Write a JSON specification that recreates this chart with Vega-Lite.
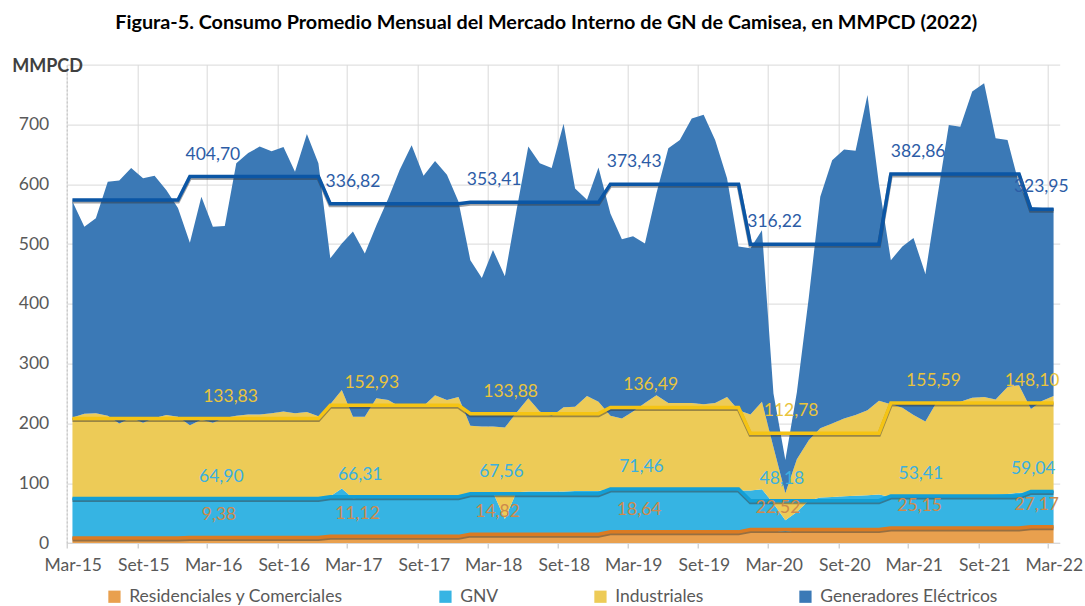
{
  "$schema": "https://vega.github.io/schema/vega-lite/v6.json",
  "autosize": {"type": "none"},
  "width": 993,
  "height": 478.4,
  "padding": {"left": 66.7, "top": 64.6, "right": 25.3, "bottom": 63},
  "background": "white",
  "title": {
    "text": "Figura-5. Consumo Promedio Mensual del Mercado Interno de GN de Camisea, en MMPCD (2022)",
    "font": "Lato", "fontSize": 19.8, "fontWeight": "bold", "color": "#000000",
    "anchor": "middle", "frame": "group", "dx": -17, "offset": 25
  },
  "config": {
    "font": "Lato",
    "view": {"stroke": null},
    "locale": {"number": {"decimal": ",", "thousands": ".", "grouping": [3], "currency": ["", ""]}}
  },
  "datasets": {
    "series": [
      {"clave": "res", "orden": 1, "nombre": "Residenciales y Comerciales"},
      {"clave": "gnv", "orden": 2, "nombre": "GNV"},
      {"clave": "ind", "orden": 3, "nombre": "Industriales"},
      {"clave": "gen", "orden": 4, "nombre": "Generadores Eléctricos"}
    ],
    "lineas": [
      {"clave": "pres", "orden": 1},
      {"clave": "pgnv", "orden": 2},
      {"clave": "pind", "orden": 3},
      {"clave": "pgen", "orden": 4}
    ],
    "promedios": [
      {"anio": 2015, "pres": 8.5, "pgnv": 65.8, "pind": 133.8, "pgen": 365.5},
      {"anio": 2016, "pres": 9.38, "pgnv": 64.90, "pind": 133.83, "pgen": 404.70},
      {"anio": 2017, "pres": 11.12, "pgnv": 66.31, "pind": 152.93, "pgen": 336.82},
      {"anio": 2018, "pres": 14.82, "pgnv": 67.56, "pind": 133.88, "pgen": 353.41},
      {"anio": 2019, "pres": 18.64, "pgnv": 71.46, "pind": 136.49, "pgen": 373.43},
      {"anio": 2020, "pres": 22.52, "pgnv": 48.18, "pind": 112.78, "pgen": 316.22},
      {"anio": 2021, "pres": 25.15, "pgnv": 53.41, "pind": 155.59, "pgen": 382.86},
      {"anio": 2022, "pres": 27.17, "pgnv": 59.04, "pind": 148.10, "pgen": 323.95}
    ],
    "etiquetas": [
      {"anio": 2016, "clave": "pres", "valor": 9.38, "fecha": "2016/04/01"},
      {"anio": 2016, "clave": "pgnv", "valor": 64.90, "fecha": "2016/04/07"},
      {"anio": 2016, "clave": "pind", "valor": 133.83, "fecha": "2016/05/01"},
      {"anio": 2016, "clave": "pgen", "valor": 404.70, "fecha": "2016/03/16"},
      {"anio": 2017, "clave": "pres", "valor": 11.12, "fecha": "2017/03/28"},
      {"anio": 2017, "clave": "pgnv", "valor": 66.31, "fecha": "2017/04/04"},
      {"anio": 2017, "clave": "pind", "valor": 152.93, "fecha": "2017/05/04"},
      {"anio": 2017, "clave": "pgen", "valor": 336.82, "fecha": "2017/03/16"},
      {"anio": 2018, "clave": "pres", "valor": 14.82, "fecha": "2018/03/28"},
      {"anio": 2018, "clave": "pgnv", "valor": 67.56, "fecha": "2018/04/07"},
      {"anio": 2018, "clave": "pind", "valor": 133.88, "fecha": "2018/05/01"},
      {"anio": 2018, "clave": "pgen", "valor": 353.41, "fecha": "2018/03/19"},
      {"anio": 2019, "clave": "pres", "valor": 18.64, "fecha": "2019/04/01"},
      {"anio": 2019, "clave": "pgnv", "valor": 71.46, "fecha": "2019/04/07"},
      {"anio": 2019, "clave": "pind", "valor": 136.49, "fecha": "2019/05/01"},
      {"anio": 2019, "clave": "pgen", "valor": 373.43, "fecha": "2019/03/19"},
      {"anio": 2020, "clave": "pres", "valor": 22.52, "fecha": "2020/03/28"},
      {"anio": 2020, "clave": "pgnv", "valor": 48.18, "fecha": "2020/04/07"},
      {"anio": 2020, "clave": "pind", "valor": 112.78, "fecha": "2020/05/01"},
      {"anio": 2020, "clave": "pgen", "valor": 316.22, "fecha": "2020/03/19"},
      {"anio": 2021, "clave": "pres", "valor": 25.15, "fecha": "2021/04/01"},
      {"anio": 2021, "clave": "pgnv", "valor": 53.41, "fecha": "2021/04/04"},
      {"anio": 2021, "clave": "pind", "valor": 155.59, "fecha": "2021/05/07"},
      {"anio": 2021, "clave": "pgen", "valor": 382.86, "fecha": "2021/03/28"},
      {"anio": 2022, "clave": "pres", "valor": 27.17, "fecha": "2022/01/31"},
      {"anio": 2022, "clave": "pgnv", "valor": 59.04, "fecha": "2022/01/22"},
      {"anio": 2022, "clave": "pind", "valor": 148.10, "fecha": "2022/01/19"},
      {"anio": 2022, "clave": "pgen", "valor": 323.95, "fecha": "2022/02/12"}
    ],
    "mensual": [
      {"mes": "2015/03/16", "anio": 2015, "res": 8.3, "gnv": 66.7, "ind": 135, "gen": 361},
      {"mes": "2015/04/16", "anio": 2015, "res": 8.4, "gnv": 66.6, "ind": 141, "gen": 313},
      {"mes": "2015/05/16", "anio": 2015, "res": 8.5, "gnv": 65.5, "ind": 143, "gen": 326},
      {"mes": "2015/06/16", "anio": 2015, "res": 8.4, "gnv": 65.6, "ind": 139, "gen": 391},
      {"mes": "2015/07/16", "anio": 2015, "res": 8.5, "gnv": 66.5, "ind": 125, "gen": 406},
      {"mes": "2015/08/16", "anio": 2015, "res": 8.6, "gnv": 65.4, "ind": 135, "gen": 418},
      {"mes": "2015/09/16", "anio": 2015, "res": 8.6, "gnv": 65.4, "ind": 127, "gen": 409},
      {"mes": "2015/10/16", "anio": 2015, "res": 8.7, "gnv": 66.3, "ind": 134, "gen": 405},
      {"mes": "2015/11/16", "anio": 2015, "res": 8.6, "gnv": 66.4, "ind": 139, "gen": 376},
      {"mes": "2015/12/16", "anio": 2015, "res": 8.5, "gnv": 65.5, "ind": 137, "gen": 349},
      {"mes": "2016/01/16", "anio": 2016, "res": 9.0, "gnv": 64.0, "ind": 124, "gen": 305},
      {"mes": "2016/02/15", "anio": 2016, "res": 9.2, "gnv": 63.8, "ind": 133, "gen": 373},
      {"mes": "2016/03/16", "anio": 2016, "res": 9.4, "gnv": 63.6, "ind": 128, "gen": 328},
      {"mes": "2016/04/16", "anio": 2016, "res": 9.3, "gnv": 63.7, "ind": 136, "gen": 321},
      {"mes": "2016/05/16", "anio": 2016, "res": 9.4, "gnv": 64.6, "ind": 139, "gen": 422},
      {"mes": "2016/06/16", "anio": 2016, "res": 9.5, "gnv": 64.5, "ind": 141, "gen": 437},
      {"mes": "2016/07/16", "anio": 2016, "res": 9.3, "gnv": 65.7, "ind": 140, "gen": 448},
      {"mes": "2016/08/16", "anio": 2016, "res": 9.5, "gnv": 65.5, "ind": 142, "gen": 438},
      {"mes": "2016/09/16", "anio": 2016, "res": 9.4, "gnv": 66.6, "ind": 144, "gen": 442},
      {"mes": "2016/10/16", "anio": 2016, "res": 9.5, "gnv": 66.5, "ind": 141, "gen": 404},
      {"mes": "2016/11/16", "anio": 2016, "res": 9.6, "gnv": 66.4, "ind": 143, "gen": 465},
      {"mes": "2016/12/16", "anio": 2016, "res": 9.4, "gnv": 65.6, "ind": 137, "gen": 423},
      {"mes": "2017/01/16", "anio": 2017, "res": 10.6, "gnv": 67.4, "ind": 154, "gen": 244},
      {"mes": "2017/02/15", "anio": 2017, "res": 10.9, "gnv": 80.1, "ind": 165, "gen": 245},
      {"mes": "2017/03/16", "anio": 2017, "res": 11.0, "gnv": 64.0, "ind": 136, "gen": 310},
      {"mes": "2017/04/16", "anio": 2017, "res": 11.1, "gnv": 64.9, "ind": 135, "gen": 273},
      {"mes": "2017/05/16", "anio": 2017, "res": 11.2, "gnv": 65.8, "ind": 165, "gen": 289},
      {"mes": "2017/06/16", "anio": 2017, "res": 11.2, "gnv": 64.8, "ind": 163, "gen": 337},
      {"mes": "2017/07/16", "anio": 2017, "res": 11.3, "gnv": 64.7, "ind": 152, "gen": 396},
      {"mes": "2017/08/16", "anio": 2017, "res": 11.2, "gnv": 65.8, "ind": 151, "gen": 437},
      {"mes": "2017/09/16", "anio": 2017, "res": 11.3, "gnv": 65.7, "ind": 152, "gen": 385},
      {"mes": "2017/10/16", "anio": 2017, "res": 11.2, "gnv": 64.8, "ind": 171, "gen": 392},
      {"mes": "2017/11/16", "anio": 2017, "res": 11.2, "gnv": 64.8, "ind": 163, "gen": 377},
      {"mes": "2017/12/16", "anio": 2017, "res": 11.2, "gnv": 64.8, "ind": 168, "gen": 327},
      {"mes": "2018/01/16", "anio": 2018, "res": 14.2, "gnv": 67.8, "ind": 114, "gen": 277},
      {"mes": "2018/02/15", "anio": 2018, "res": 14.5, "gnv": 69.5, "ind": 111, "gen": 248},
      {"mes": "2018/03/16", "anio": 2018, "res": 14.6, "gnv": 70.4, "ind": 110, "gen": 295},
      {"mes": "2018/04/16", "anio": 2018, "res": 14.8, "gnv": 25.2, "ind": 153, "gen": 253},
      {"mes": "2018/05/16", "anio": 2018, "res": 14.9, "gnv": 70.1, "ind": 133, "gen": 337},
      {"mes": "2018/06/16", "anio": 2018, "res": 15.0, "gnv": 71.0, "ind": 156, "gen": 421},
      {"mes": "2018/07/16", "anio": 2018, "res": 14.9, "gnv": 71.1, "ind": 134, "gen": 415},
      {"mes": "2018/08/16", "anio": 2018, "res": 15.0, "gnv": 71.0, "ind": 126, "gen": 415},
      {"mes": "2018/09/16", "anio": 2018, "res": 15.0, "gnv": 71.0, "ind": 141, "gen": 474},
      {"mes": "2018/10/16", "anio": 2018, "res": 14.9, "gnv": 72.1, "ind": 141, "gen": 365},
      {"mes": "2018/11/16", "anio": 2018, "res": 15.0, "gnv": 72.0, "ind": 159, "gen": 328},
      {"mes": "2018/12/16", "anio": 2018, "res": 15.0, "gnv": 72.0, "ind": 149, "gen": 392},
      {"mes": "2019/01/16", "anio": 2019, "res": 17.8, "gnv": 73.2, "ind": 122, "gen": 338},
      {"mes": "2019/02/15", "anio": 2019, "res": 18.2, "gnv": 72.8, "ind": 117, "gen": 300},
      {"mes": "2019/03/16", "anio": 2019, "res": 18.5, "gnv": 72.5, "ind": 129, "gen": 293},
      {"mes": "2019/04/16", "anio": 2019, "res": 18.6, "gnv": 71.4, "ind": 144, "gen": 267},
      {"mes": "2019/05/16", "anio": 2019, "res": 18.7, "gnv": 71.3, "ind": 157, "gen": 338},
      {"mes": "2019/06/16", "anio": 2019, "res": 18.8, "gnv": 71.2, "ind": 144, "gen": 426},
      {"mes": "2019/07/16", "anio": 2019, "res": 18.9, "gnv": 72.1, "ind": 143, "gen": 440},
      {"mes": "2019/08/16", "anio": 2019, "res": 18.8, "gnv": 72.2, "ind": 143, "gen": 476},
      {"mes": "2019/09/16", "anio": 2019, "res": 18.9, "gnv": 72.1, "ind": 141, "gen": 484},
      {"mes": "2019/10/16", "anio": 2019, "res": 18.8, "gnv": 73.2, "ind": 142, "gen": 440},
      {"mes": "2019/11/16", "anio": 2019, "res": 18.8, "gnv": 73.2, "ind": 152, "gen": 366},
      {"mes": "2019/12/16", "anio": 2019, "res": 18.9, "gnv": 69.1, "ind": 134, "gen": 274},
      {"mes": "2020/01/16", "anio": 2020, "res": 21.5, "gnv": 66.5, "ind": 127, "gen": 278},
      {"mes": "2020/02/15", "anio": 2020, "res": 22.0, "gnv": 68.0, "ind": 146, "gen": 287},
      {"mes": "2020/03/16", "anio": 2020, "res": 21.0, "gnv": 45.0, "ind": 94, "gen": 90},
      {"mes": "2020/04/16", "anio": 2020, "res": 18.5, "gnv": 19.5, "ind": 45, "gen": 56},
      {"mes": "2020/05/16", "anio": 2020, "res": 21.5, "gnv": 30.5, "ind": 88, "gen": 112},
      {"mes": "2020/06/16", "anio": 2020, "res": 22.8, "gnv": 48.2, "ind": 101, "gen": 238},
      {"mes": "2020/07/16", "anio": 2020, "res": 23.2, "gnv": 52.8, "ind": 116, "gen": 387},
      {"mes": "2020/08/16", "anio": 2020, "res": 23.4, "gnv": 53.6, "ind": 123, "gen": 440},
      {"mes": "2020/09/16", "anio": 2020, "res": 23.5, "gnv": 54.5, "ind": 130, "gen": 450},
      {"mes": "2020/10/16", "anio": 2020, "res": 23.6, "gnv": 55.4, "ind": 135, "gen": 442},
      {"mes": "2020/11/16", "anio": 2020, "res": 23.5, "gnv": 56.5, "ind": 142, "gen": 527},
      {"mes": "2020/12/16", "anio": 2020, "res": 23.7, "gnv": 57.3, "ind": 157, "gen": 362},
      {"mes": "2021/01/16", "anio": 2021, "res": 24.5, "gnv": 52.5, "ind": 155, "gen": 241},
      {"mes": "2021/02/15", "anio": 2021, "res": 24.8, "gnv": 52.2, "ind": 149, "gen": 270},
      {"mes": "2021/03/16", "anio": 2021, "res": 25.0, "gnv": 52.0, "ind": 137, "gen": 296},
      {"mes": "2021/04/16", "anio": 2021, "res": 25.1, "gnv": 51.9, "ind": 126, "gen": 247},
      {"mes": "2021/05/16", "anio": 2021, "res": 25.2, "gnv": 52.8, "ind": 158, "gen": 338},
      {"mes": "2021/06/16", "anio": 2021, "res": 25.2, "gnv": 52.8, "ind": 157, "gen": 464},
      {"mes": "2021/07/16", "anio": 2021, "res": 25.3, "gnv": 52.7, "ind": 158, "gen": 460},
      {"mes": "2021/08/16", "anio": 2021, "res": 25.2, "gnv": 53.8, "ind": 164, "gen": 512},
      {"mes": "2021/09/16", "anio": 2021, "res": 25.3, "gnv": 54.7, "ind": 164, "gen": 525},
      {"mes": "2021/10/16", "anio": 2021, "res": 25.3, "gnv": 55.7, "ind": 159, "gen": 437},
      {"mes": "2021/11/16", "anio": 2021, "res": 25.3, "gnv": 56.7, "ind": 179, "gen": 413},
      {"mes": "2021/12/16", "anio": 2021, "res": 25.4, "gnv": 58.6, "ind": 180, "gen": 336},
      {"mes": "2022/01/16", "anio": 2022, "res": 26.9, "gnv": 58.1, "ind": 139, "gen": 338},
      {"mes": "2022/02/15", "anio": 2022, "res": 27.2, "gnv": 58.8, "ind": 152, "gen": 322},
      {"mes": "2022/03/16", "anio": 2022, "res": 27.4, "gnv": 59.6, "ind": 159, "gen": 314}
    ]
  },
  "resolve": {"scale": {"color": "independent"}},
  "layer": [
    {
      "data": {"name": "mensual"},
      "transform": [
        {"fold": ["res", "gnv", "ind", "gen"], "as": ["clave", "valor"]},
        {"lookup": "clave", "from": {"data": {"name": "series"}, "key": "clave", "fields": ["orden", "nombre"]}}
      ],
      "mark": {"type": "area", "opacity": 1},
      "encoding": {
        "x": {
          "field": "mes", "type": "temporal",
          "scale": {"domain": [{"year": 2015, "month": "Mar", "date": 1}, {"year": 2022, "month": "Apr", "date": 1}], "nice": false},
          "axis": {
            "values": [
              {"year": 2015, "month": "Mar", "date": 1}, {"year": 2015, "month": "Sep", "date": 1},
              {"year": 2016, "month": "Mar", "date": 1}, {"year": 2016, "month": "Sep", "date": 1},
              {"year": 2017, "month": "Mar", "date": 1}, {"year": 2017, "month": "Sep", "date": 1},
              {"year": 2018, "month": "Mar", "date": 1}, {"year": 2018, "month": "Sep", "date": 1},
              {"year": 2019, "month": "Mar", "date": 1}, {"year": 2019, "month": "Sep", "date": 1},
              {"year": 2020, "month": "Mar", "date": 1}, {"year": 2020, "month": "Sep", "date": 1},
              {"year": 2021, "month": "Mar", "date": 1}, {"year": 2021, "month": "Sep", "date": 1},
              {"year": 2022, "month": "Mar", "date": 1}
            ],
            "labelExpr": "['Ene','Feb','Mar','Abr','May','Jun','Jul','Ago','Set','Oct','Nov','Dic'][month(datum.value)] + '-' + timeFormat(datum.value, '%y')",
            "title": null,
            "grid": true, "gridColor": "#D9D9D9", "gridWidth": 1,
            "tickColor": "#BFBFBF", "tickSize": 5,
            "domainColor": "#D9D9D9",
            "labelFontSize": 17.5, "labelColor": "#595959", "labelOffset": 6, "labelPadding": 8,
            "labelOverlap": false, "labelFlush": false, "labelBound": false
          }
        },
        "y": {
          "field": "valor", "type": "quantitative", "stack": "zero",
          "scale": {"domain": [0, 800], "nice": false},
          "axis": {
            "values": [0, 100, 200, 300, 400, 500, 600, 700, 800],
            "labelExpr": "datum.value == 800 ? '' : datum.label",
            "title": "MMPCD", "titleAngle": 0, "titleAlign": "left", "titleBaseline": "middle",
            "titleX": -55, "titleY": 2, "titleFontSize": 18, "titleFontWeight": "bold", "titleColor": "#404040",
            "grid": true, "gridColor": "#D9D9D9", "gridWidth": 1,
            "ticks": false, "labelPadding": 18, "labelFontSize": 17.5, "labelColor": "#595959",
            "domain": true, "domainColor": "#BFBFBF", "domainDash": [2, 2]
          }
        },
        "color": {
          "field": "nombre", "type": "nominal",
          "scale": {
            "domain": ["Residenciales y Comerciales", "GNV", "Industriales", "Generadores Eléctricos"],
            "range": ["#E9A04E", "#36B4E3", "#EDCB57", "#3B79B6"]
          },
          "legend": {
            "orient": "none", "legendX": 39, "legendY": 523, "direction": "horizontal",
            "title": null, "symbolType": "square", "symbolSize": 150, "symbolStrokeWidth": 0,
            "labelFontSize": 17.5, "labelColor": "#595959", "labelOffset": 6, "labelLimit": 400, "columnPadding": 93
          }
        },
        "order": {"field": "orden", "type": "quantitative", "sort": "ascending"}
      }
    },
    {
      "data": {"name": "mensual"},
      "transform": [
        {"lookup": "anio", "from": {"data": {"name": "promedios"}, "key": "anio", "fields": ["pres", "pgnv", "pind", "pgen"]}},
        {"fold": ["pres", "pgnv", "pind", "pgen"], "as": ["clave", "prom"]},
        {"lookup": "clave", "from": {"data": {"name": "lineas"}, "key": "clave", "fields": ["orden"]}},
        {"stack": "prom", "groupby": ["mes"], "sort": [{"field": "orden", "order": "ascending"}], "as": ["p0", "p1"]}
      ],
      "mark": {"type": "line", "color": "#333333", "opacity": 0.45, "strokeWidth": 4, "yOffset": 1.5},
      "encoding": {
        "x": {"field": "mes", "type": "temporal"},
        "y": {"field": "p1", "type": "quantitative"},
        "detail": {"field": "clave", "type": "nominal"}
      }
    },
    {
      "data": {"name": "mensual"},
      "transform": [
        {"lookup": "anio", "from": {"data": {"name": "promedios"}, "key": "anio", "fields": ["pres", "pgnv", "pind", "pgen"]}},
        {"fold": ["pres", "pgnv", "pind", "pgen"], "as": ["clave", "prom"]},
        {"lookup": "clave", "from": {"data": {"name": "lineas"}, "key": "clave", "fields": ["orden"]}},
        {"stack": "prom", "groupby": ["mes"], "sort": [{"field": "orden", "order": "ascending"}], "as": ["p0", "p1"]}
      ],
      "mark": {"type": "line", "strokeWidth": 3.5},
      "encoding": {
        "x": {"field": "mes", "type": "temporal"},
        "y": {"field": "p1", "type": "quantitative"},
        "color": {
          "field": "clave", "type": "nominal",
          "scale": {"domain": ["pres", "pgnv", "pind", "pgen"], "range": ["#DB7B22", "#139FD6", "#F5C414", "#0B56A5"]},
          "legend": null
        }
      }
    },
    {
      "data": {"name": "etiquetas"},
      "transform": [
        {"lookup": "clave", "from": {"data": {"name": "lineas"}, "key": "clave", "fields": ["orden"]}},
        {"stack": "valor", "groupby": ["anio"], "sort": [{"field": "orden", "order": "ascending"}], "as": ["v0", "v1"]}
      ],
      "mark": {"type": "text", "dy": -22, "fontSize": 17.5, "align": "center", "baseline": "middle"},
      "encoding": {
        "x": {"field": "fecha", "type": "temporal"},
        "y": {"field": "v1", "type": "quantitative"},
        "text": {"field": "valor", "type": "quantitative", "format": ".2f"},
        "color": {
          "field": "clave", "type": "nominal",
          "scale": {"domain": ["pres", "pgnv", "pind", "pgen"], "range": ["#CD8A4C", "#3BB0E0", "#E9C43C", "#2C5CA6"]},
          "legend": null
        }
      }
    }
  ]
}
